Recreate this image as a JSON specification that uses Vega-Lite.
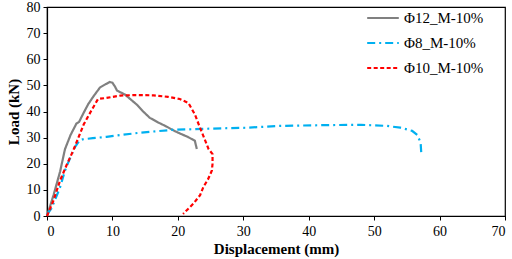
{
  "$schema": "https://vega.github.io/schema/vega-lite/v6.json",
  "width": 458,
  "height": 209,
  "autosize": "none",
  "padding": {"left": 47, "top": 7, "right": 7, "bottom": 43},
  "background": "white",
  "config": {
    "view": {"stroke": "black", "strokeWidth": 1.2},
    "font": "Liberation Serif, Times New Roman, serif",
    "axis": {"grid": false, "domainColor": "black", "tickColor": "black", "labelColor": "black", "titleColor": "black", "labelFont": "Liberation Serif, Times New Roman, serif", "titleFont": "Liberation Serif, Times New Roman, serif", "labelFontSize": 14, "titleFontSize": 15, "titleFontWeight": "bold", "tickSize": 4, "domainWidth": 1.2},
    "legend": {"labelFont": "Liberation Serif, Times New Roman, serif"}
  },
  "data": {"values": [
    {"s": "Φ12_M-10%", "i": 0, "x": 0, "y": 0},
    {"s": "Φ12_M-10%", "i": 1, "x": 1, "y": 8},
    {"s": "Φ12_M-10%", "i": 2, "x": 2, "y": 17},
    {"s": "Φ12_M-10%", "i": 3, "x": 2.75, "y": 25.6},
    {"s": "Φ12_M-10%", "i": 4, "x": 3.6, "y": 31},
    {"s": "Φ12_M-10%", "i": 5, "x": 4.5, "y": 35.4},
    {"s": "Φ12_M-10%", "i": 6, "x": 4.9, "y": 36},
    {"s": "Φ12_M-10%", "i": 7, "x": 5.6, "y": 39.5},
    {"s": "Φ12_M-10%", "i": 8, "x": 6.3, "y": 42.8},
    {"s": "Φ12_M-10%", "i": 9, "x": 7.1, "y": 45.8},
    {"s": "Φ12_M-10%", "i": 10, "x": 8.1, "y": 49.2},
    {"s": "Φ12_M-10%", "i": 11, "x": 9, "y": 50.5},
    {"s": "Φ12_M-10%", "i": 12, "x": 9.6, "y": 51.3},
    {"s": "Φ12_M-10%", "i": 13, "x": 10, "y": 51},
    {"s": "Φ12_M-10%", "i": 14, "x": 10.4, "y": 49.5},
    {"s": "Φ12_M-10%", "i": 15, "x": 10.7, "y": 48},
    {"s": "Φ12_M-10%", "i": 16, "x": 11.9, "y": 46.5},
    {"s": "Φ12_M-10%", "i": 17, "x": 12.8, "y": 44.6},
    {"s": "Φ12_M-10%", "i": 18, "x": 13.7, "y": 42.7},
    {"s": "Φ12_M-10%", "i": 19, "x": 14.7, "y": 40},
    {"s": "Φ12_M-10%", "i": 20, "x": 15.7, "y": 37.6},
    {"s": "Φ12_M-10%", "i": 21, "x": 17, "y": 35.8},
    {"s": "Φ12_M-10%", "i": 22, "x": 18.3, "y": 34.2},
    {"s": "Φ12_M-10%", "i": 23, "x": 19.3, "y": 32.8},
    {"s": "Φ12_M-10%", "i": 24, "x": 20.3, "y": 31.6},
    {"s": "Φ12_M-10%", "i": 25, "x": 21.5, "y": 30.3},
    {"s": "Φ12_M-10%", "i": 26, "x": 22.6, "y": 28.8},
    {"s": "Φ12_M-10%", "i": 27, "x": 22.9, "y": 25.6},
    {"s": "Φ8_M-10%", "i": 0, "x": 0, "y": 0.5},
    {"s": "Φ8_M-10%", "i": 1, "x": 0.7, "y": 3},
    {"s": "Φ8_M-10%", "i": 2, "x": 1.2, "y": 6},
    {"s": "Φ8_M-10%", "i": 3, "x": 2, "y": 11},
    {"s": "Φ8_M-10%", "i": 4, "x": 2.75, "y": 17.4},
    {"s": "Φ8_M-10%", "i": 5, "x": 3.5, "y": 22},
    {"s": "Φ8_M-10%", "i": 6, "x": 4.3, "y": 26.5},
    {"s": "Φ8_M-10%", "i": 7, "x": 5, "y": 29},
    {"s": "Φ8_M-10%", "i": 8, "x": 5.4, "y": 29.3},
    {"s": "Φ8_M-10%", "i": 9, "x": 7, "y": 29.8},
    {"s": "Φ8_M-10%", "i": 10, "x": 9.1, "y": 30.3},
    {"s": "Φ8_M-10%", "i": 11, "x": 14.2, "y": 31.9},
    {"s": "Φ8_M-10%", "i": 12, "x": 19.3, "y": 33},
    {"s": "Φ8_M-10%", "i": 13, "x": 24.4, "y": 33.4},
    {"s": "Φ8_M-10%", "i": 14, "x": 30.5, "y": 33.8},
    {"s": "Φ8_M-10%", "i": 15, "x": 35.6, "y": 34.5},
    {"s": "Φ8_M-10%", "i": 16, "x": 42.8, "y": 34.8},
    {"s": "Φ8_M-10%", "i": 17, "x": 48, "y": 34.9},
    {"s": "Φ8_M-10%", "i": 18, "x": 51.9, "y": 34.5},
    {"s": "Φ8_M-10%", "i": 19, "x": 54, "y": 33.8},
    {"s": "Φ8_M-10%", "i": 20, "x": 55.8, "y": 32.6},
    {"s": "Φ8_M-10%", "i": 21, "x": 56.6, "y": 31},
    {"s": "Φ8_M-10%", "i": 22, "x": 57.1, "y": 28.1},
    {"s": "Φ8_M-10%", "i": 23, "x": 57.2, "y": 24.1},
    {"s": "Φ10_M-10%", "i": 0, "x": 0, "y": 0},
    {"s": "Φ10_M-10%", "i": 1, "x": 1, "y": 6},
    {"s": "Φ10_M-10%", "i": 2, "x": 2, "y": 13.6},
    {"s": "Φ10_M-10%", "i": 3, "x": 3, "y": 19.5},
    {"s": "Φ10_M-10%", "i": 4, "x": 4, "y": 25},
    {"s": "Φ10_M-10%", "i": 5, "x": 4.8, "y": 30},
    {"s": "Φ10_M-10%", "i": 6, "x": 5.6, "y": 35},
    {"s": "Φ10_M-10%", "i": 7, "x": 6.7, "y": 40},
    {"s": "Φ10_M-10%", "i": 8, "x": 7.8, "y": 44.8},
    {"s": "Φ10_M-10%", "i": 9, "x": 9.1, "y": 45.2},
    {"s": "Φ10_M-10%", "i": 10, "x": 11.2, "y": 46.1},
    {"s": "Φ10_M-10%", "i": 11, "x": 13.5, "y": 46.3},
    {"s": "Φ10_M-10%", "i": 12, "x": 16.3, "y": 46.2},
    {"s": "Φ10_M-10%", "i": 13, "x": 18.5, "y": 45.6},
    {"s": "Φ10_M-10%", "i": 14, "x": 20.3, "y": 44.8},
    {"s": "Φ10_M-10%", "i": 15, "x": 21.6, "y": 43.3},
    {"s": "Φ10_M-10%", "i": 16, "x": 22.6, "y": 38.9},
    {"s": "Φ10_M-10%", "i": 17, "x": 23.2, "y": 35},
    {"s": "Φ10_M-10%", "i": 18, "x": 23.7, "y": 31.9},
    {"s": "Φ10_M-10%", "i": 19, "x": 24.7, "y": 25.6},
    {"s": "Φ10_M-10%", "i": 20, "x": 25.3, "y": 23.7},
    {"s": "Φ10_M-10%", "i": 21, "x": 25.3, "y": 20},
    {"s": "Φ10_M-10%", "i": 22, "x": 25.2, "y": 17.4},
    {"s": "Φ10_M-10%", "i": 23, "x": 24.6, "y": 14},
    {"s": "Φ10_M-10%", "i": 24, "x": 23.9, "y": 11.1},
    {"s": "Φ10_M-10%", "i": 25, "x": 23.4, "y": 8},
    {"s": "Φ10_M-10%", "i": 26, "x": 22.4, "y": 4.8},
    {"s": "Φ10_M-10%", "i": 27, "x": 21.6, "y": 2.8},
    {"s": "Φ10_M-10%", "i": 28, "x": 20.8, "y": 0.8}
  ]},
  "mark": {"type": "line", "strokeWidth": 2.2},
  "encoding": {
    "x": {"field": "x", "type": "quantitative", "title": "Displacement (mm)", "scale": {"domain": [0, 70], "nice": false}, "axis": {"values": [0,10,20,30,40,50,60,70], "titlePadding": 3, "labelPadding": 4}},
    "y": {"field": "y", "type": "quantitative", "title": "Load (kN)", "scale": {"domain": [0, 80], "nice": false}, "axis": {"values": [0,10,20,30,40,50,60,70,80], "titlePadding": 5, "labelPadding": 3}},
    "order": {"field": "i", "type": "quantitative"},
    "color": {"field": "s", "type": "nominal", "title": null, "scale": {"domain": ["Φ12_M-10%", "Φ8_M-10%", "Φ10_M-10%"], "range": ["#808080", "#00b0f0", "#ff0000"]},
      "legend": {"orient": "none", "legendX": 319, "legendY": -6, "labelFont": "Liberation Serif, Times New Roman, serif", "labelFontSize": 15, "labelColor": "black", "symbolType": "stroke", "symbolSize": 1000, "symbolStrokeWidth": 2.2, "rowPadding": -6, "labelOffset": 4}},
    "strokeDash": {"field": "s", "type": "nominal", "title": null, "scale": {"domain": ["Φ12_M-10%", "Φ8_M-10%", "Φ10_M-10%"], "range": [[1, 0], [8, 4, 2, 4], [4, 2.5]]}}
  }
}
